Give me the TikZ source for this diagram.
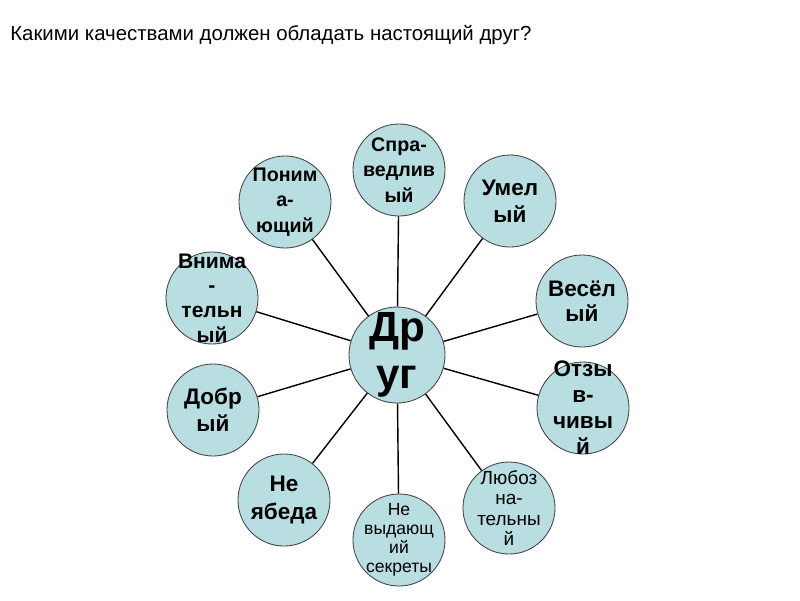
\documentclass[tikz,border=0pt]{standalone}
\usepackage{fontspec}
\setmainfont{Liberation Sans}
\usepackage{tikz}
\usetikzlibrary{positioning}
\definecolor{bubble}{HTML}{B8DEE2}
\definecolor{rim}{HTML}{404040}
\tikzset{
  hub/.style={circle, draw=rim, fill=bubble, line width=0.6pt, minimum size=2.4cm,
              inner sep=0pt},
  quality/.style={circle, draw=rim, fill=bubble, line width=0.6pt, minimum size=2.3cm,
              inner sep=0pt},
  qtext/.style={align=center, inner sep=0pt, font=\bfseries\fontsize{14}{18}\selectfont},
  qsmall/.style={align=center, inner sep=0pt, font=\fontsize{13.5}{14.5}\selectfont},
  spoke/.style={line width=1pt, draw=black},
}

\begin{document}
\begin{tikzpicture}[x=0.025cm, y=-0.025cm]
\useasboundingbox (0,0) rectangle (800,600);
\node[anchor=west, inner sep=0pt, font=\fontsize{14.5}{16}\selectfont] (title) at (10,35)
  {Какими качествами должен обладать настоящий друг?};

\node[hub, label={[align=center, inner sep=0pt, font=\bfseries\fontsize{30}{33.5}\selectfont]center:Др\\уг}] (friend) at (397,355) {};

\node[quality, label={[qtext]center:Спра-\\ведлив\\ый}] (fair) at (399,170) {};
\node[quality, label={[qtext, font=\bfseries\fontsize{16}{19.5}\selectfont]center:Умел\\ый}] (skilled) at (510,201) {};
\node[quality, label={[qtext, font=\bfseries\fontsize{16}{18}\selectfont]center:Весёл\\ый}] (cheerful) at (582,301) {};
\node[quality, label={[qtext, font=\bfseries\fontsize{16}{18.5}\selectfont]center:Отзы\\в-\\чивы\\й}] (kind) at (583,408) {};
\node[quality, label={[qsmall]center:Любоз\\на-\\тельны\\й}] (curious) at (509,508) {};
\node[quality, label={[qsmall, font=\fontsize{12.5}{13.5}\selectfont]center:Не\\выдающ\\ий\\секреты}] (secret) at (399,540) {};
\node[quality, label={[qtext, font=\bfseries\fontsize{16}{20}\selectfont]center:Не\\ябеда}] (nosneak) at (284,500) {};
\node[quality, label={[qtext, font=\bfseries\fontsize{16}{19.5}\selectfont]center:Добр\\ый}] (good) at (213,410) {};
\node[quality, label={[qtext, font=\bfseries\fontsize{15}{17.5}\selectfont]center:Внима\\-\\тельн\\ый}] (attentive) at (212,298) {};
\node[quality, label={[qtext]center:Поним\\а-\\ющий}] (understand) at (285,202) {};

\draw[spoke] (friend) -- (fair);
\draw[spoke] (friend) -- (skilled);
\draw[spoke] (friend) -- (cheerful);
\draw[spoke] (friend) -- (kind);
\draw[spoke] (friend) -- (curious);
\draw[spoke] (friend) -- (secret);
\draw[spoke] (friend) -- (nosneak);
\draw[spoke] (friend) -- (good);
\draw[spoke] (friend) -- (attentive);
\draw[spoke] (friend) -- (understand);
\end{tikzpicture}
\end{document}
